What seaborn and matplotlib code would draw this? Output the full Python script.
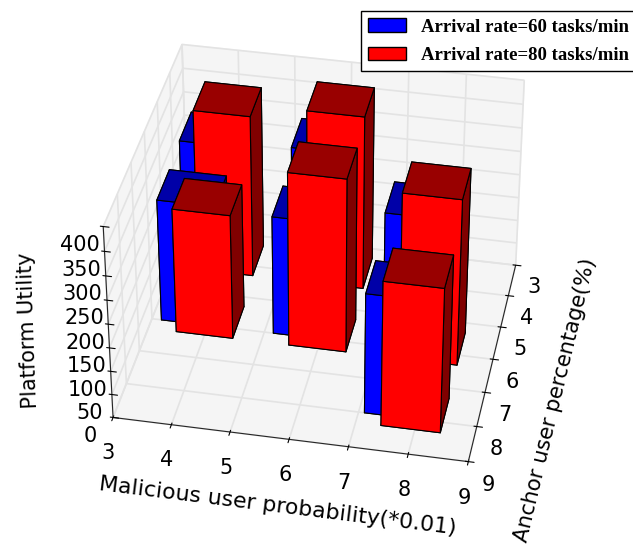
import matplotlib
matplotlib.use("Agg")
import matplotlib.pyplot as plt
import seaborn as sns
from matplotlib.patches import Patch

sns.set_style("white")
plt.rcParams['font.family'] = ['DejaVu Sans']
plt.rcParams['text.color'] = 'k'
plt.rcParams['axes.labelcolor'] = 'k'
plt.rcParams['xtick.color'] = 'k'
plt.rcParams['ytick.color'] = 'k'

x_pos = [3.76, 5.75, 7.72, 3.8, 5.79, 7.73]
y_pos = [3.7, 3.7, 5.7, 5.7, 5.7, 7.7]
blue_vals = [258, 270, 287, 260, 252, 254]
red_vals = [345, 370, 352, 265, 368, 305]
ticks_xy = [3, 4, 5, 6, 7, 8, 9]
ticks_z = [0, 50, 100, 150, 200, 250, 300, 350, 400]
labels = ["Arrival rate=60 tasks/min", "Arrival rate=80 tasks/min"]

fig = plt.figure(figsize=(6.33, 5.44), dpi=100)
ax = fig.add_axes([-0.025, 0.012, 1.04, 1.04], projection='3d', computed_zorder=False)
ax.view_init(elev=36, azim=-79)
ax.set_box_aspect((3.9, 3.6, 2.55), zoom=0.92)

def faces(main, top, side):
    return [top, top, main, main, side, side]

z = 0
for i in sorted(range(6), key=lambda k: (y_pos[k], x_pos[k])):
    ax.bar3d(x_pos[i]-0.63, y_pos[i]-0.7, 0, 1, 1, blue_vals[i],
             color=faces('#0000ff', '#0000a8', '#000080'), edgecolor='k', linewidth=0.8, shade=False, zorder=z)
    z += 1
    ax.bar3d(x_pos[i]-0.3, y_pos[i]-0.4, 0, 1, 1, red_vals[i],
             color=faces('#ff0000', '#990000', '#800000'), edgecolor='k', linewidth=0.8, shade=False, zorder=z)
    z += 1

ax.set_xlim(3, 9)
ax.set_ylim(9, 3)
ax.set_zlim(0, 400)
ax.set_xticks(ticks_xy)
ax.set_yticks(ticks_xy)
ax.set_zticks(ticks_z)
ax.tick_params(labelsize=15, pad=2)
ax.xaxis.set_tick_params(pad=6)
ax.yaxis.set_tick_params(pad=4)
ax.zaxis.set_tick_params(pad=3)
ax.set_xlabel("Malicious user probability(*0.01)", fontsize=15.8, labelpad=15)
ax.set_ylabel("Anchor user percentage(%)", fontsize=15.3, labelpad=18)
ax.zaxis.set_ticks_position('upper')
fig.text(28/633, 1-330/544, "Platform Utility", fontsize=15, rotation=92, ha='center', va='center')
for a in (ax.xaxis, ax.yaxis, ax.zaxis):
    a.set_pane_color((0.96, 0.96, 0.96, 1))
    a._axinfo['grid']['color'] = (0.89, 0.89, 0.89, 1)
    a._axinfo['grid']['linewidth'] = 1.2

handles = [Patch(facecolor='#0000ff', edgecolor='k'), Patch(facecolor='#ff0000', edgecolor='k')]
fig.legend(handles, labels, loc='upper right', bbox_to_anchor=(1.005, 0.98), fancybox=False, framealpha=1,
           edgecolor='k', prop={'family': 'Liberation Serif', 'weight': 'bold', 'size': 13.5},
           borderaxespad=0, handlelength=2.0, handletextpad=0.8, labelspacing=0.6)
fig.savefig("out.png", dpi=100)
